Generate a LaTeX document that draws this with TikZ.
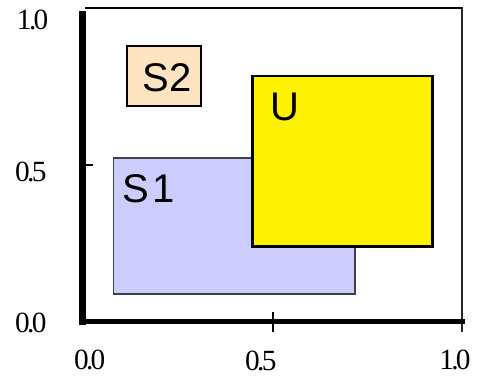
\documentclass[tikz,border=0pt]{standalone}
\usepackage{fontspec}
\setmainfont{Liberation Serif}[LetterSpace=-9]
\newfontfamily\setfont{Liberation Sans}
\definecolor{setblue}{RGB}{204,204,255}
\definecolor{setorange}{RGB}{255,228,194}

\begin{document}
\begin{tikzpicture}[x=285pt, y=235.5pt, line join=miter, font=\fontsize{22}{24}\selectfont,
	setname/.style={font=\setfont\fontsize{30}{32}\selectfont, inner sep=0pt}]
	\useasboundingbox (-0.218,-0.175) rectangle (1.037,1.025);

	% Khung trên và phải
	\draw[line width=1.9pt] (0.005,1) -- (1,1);
	\draw[line width=1.5pt, black!85] (0.997,1) -- (0.997,-0.032);

	% Trục tọa độ
	\draw[line width=5.25pt] (0,-0.01) -- (0,0.99);
	\draw[line width=3.75pt] (-0.008,0) -- (1.005,0);

	% Vạch chia
	\draw[line width=1.5pt] (0.5,0.032) -- (0.5,-0.032);
	\draw[line width=1.5pt] (0,0.5) -- (0.026,0.5);

	% Nhãn trục tung
	\node (y10) at (-0.132,0.962) {1.0};
	\node (y05) at (-0.137,0.478) {0.5};
	\node (y00) at (-0.137,-0.003) {0.0};

	% Nhãn trục hoành
	\node (x00) at (0.018,-0.121) {0.0};
	\node (x05) at (0.468,-0.124) {0.5};
	\node (x10) at (0.979,-0.121) {1.0};

	% Tập S1
	\draw[line width=1.1pt, black!75, fill=setblue] (0.08,0.089) rectangle (0.716,0.522);
	\node[setname, anchor=north west] (s1) at (0.103,0.47) {\spaceskip=0.1em S 1};

	% Tập U
	\draw[line width=2.2pt, fill=yellow] (0.447,0.239) rectangle (0.921,0.783);
	\node[setname, anchor=north west] (u) at (0.492,0.73) {U};

	% Tập S2
	\draw[line width=1.5pt, fill=setorange] (0.116,0.688) rectangle (0.311,0.879);
	\node[setname] (s2) at (0.221,0.776) {S2};
\end{tikzpicture}
\end{document}
